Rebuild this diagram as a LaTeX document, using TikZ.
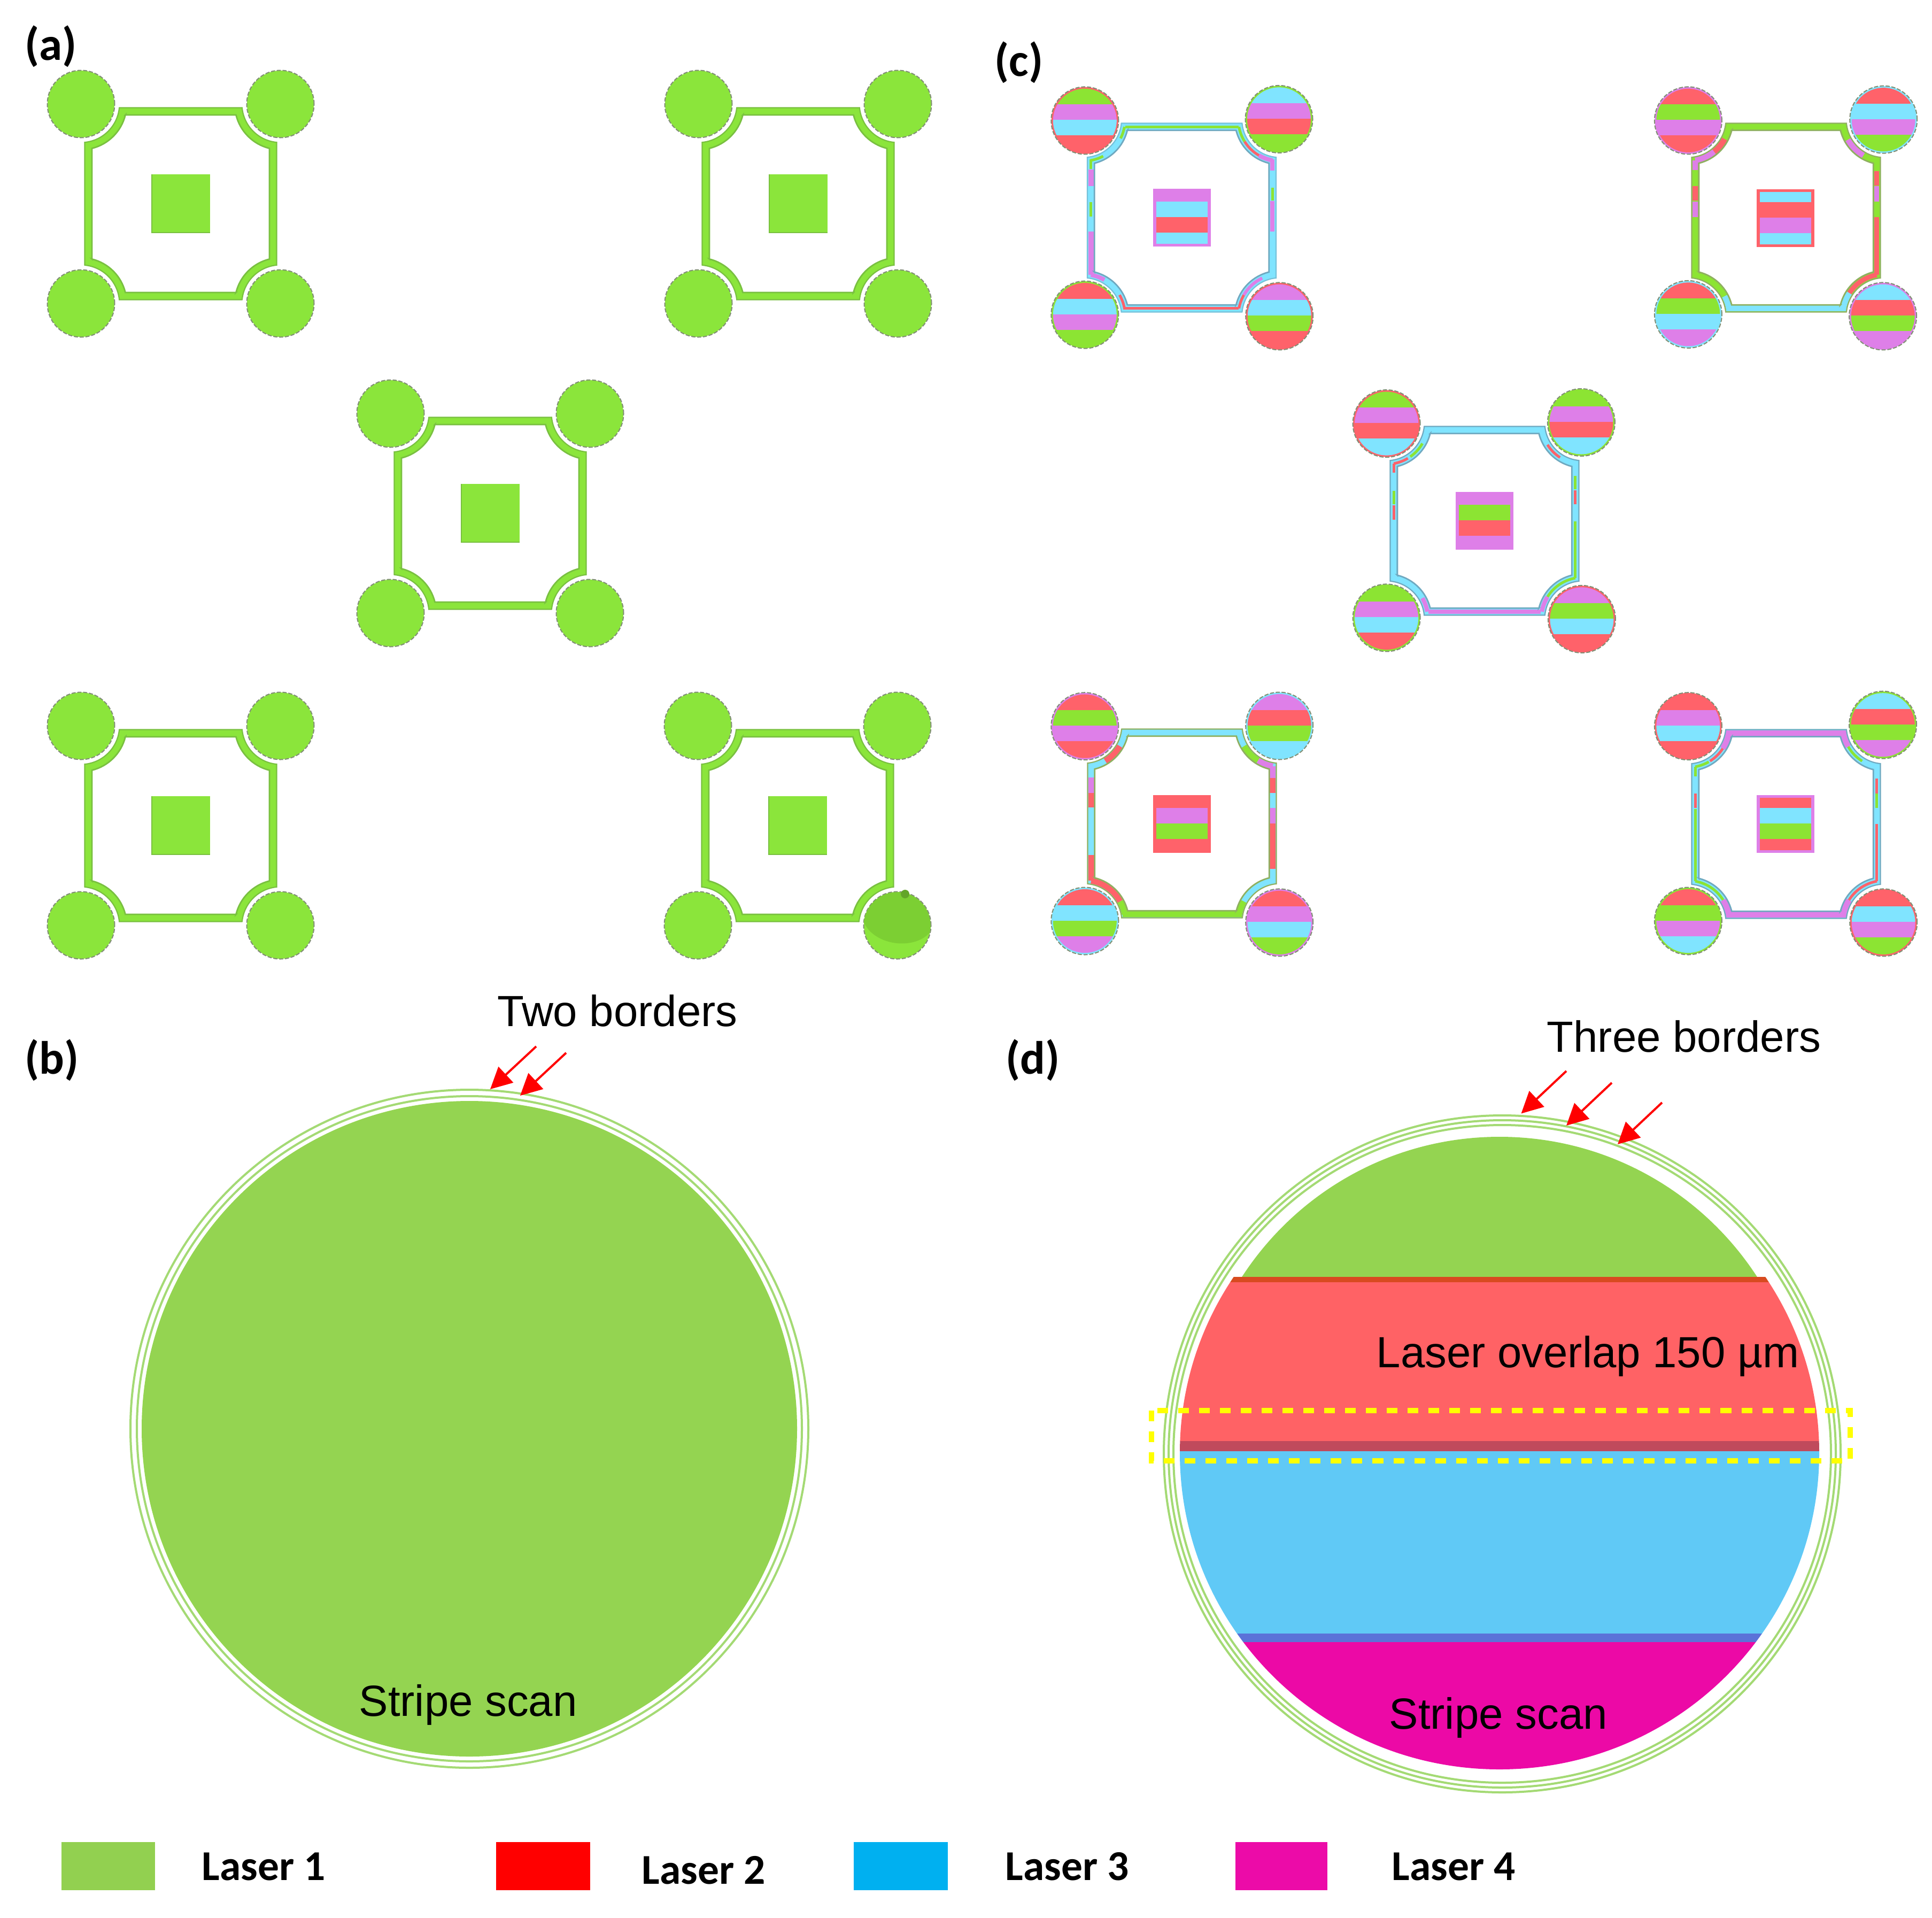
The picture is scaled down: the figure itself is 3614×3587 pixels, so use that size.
\documentclass[tikz,border=0pt]{standalone}
\usepackage{fontspec}
\usetikzlibrary{arrows.meta}
\newfontfamily\arialf{Liberation Sans}
\newfontfamily\carlf{Carlito}
\definecolor{agrn}{HTML}{8BE53B}
\definecolor{agrnd}{HTML}{7CCF33}
\definecolor{grn}{HTML}{8CE433}
\definecolor{vio}{HTML}{DE7FE8}
\definecolor{cya}{HTML}{80E4FF}
\definecolor{rd}{HTML}{FF626A}
\definecolor{dgrn}{HTML}{94D451}
\definecolor{drd}{HTML}{FF6265}
\definecolor{dcy}{HTML}{60C9F6}
\definecolor{dmg}{HTML}{EC09A6}
\definecolor{ringc}{HTML}{A4DA74}
\definecolor{ovA}{HTML}{D84B20}
\definecolor{ovB}{HTML}{C04A5C}
\definecolor{ovC}{HTML}{5B72D8}
\definecolor{lgA}{HTML}{92D050}
\definecolor{lgB}{HTML}{FF0000}
\definecolor{lgC}{HTML}{00B0F0}
\definecolor{lgD}{HTML}{EC0BA8}
\definecolor{yel}{HTML}{FFFF00}
\definecolor{tealedge}{HTML}{6FA9C0}
\definecolor{oliveedge}{HTML}{8FB060}
\definecolor{aedge}{HTML}{79C040}
\def\PX{0.2845pt}
\tikzset{
  x=0.01cm,y=0.01cm,
  lab/.style={anchor=base west,inner sep=0pt,font=\arialf\fontsize{23.2}{27}\selectfont},
  panel/.style={anchor=base west,inner sep=0pt,font=\carlf\bfseries\fontsize{24.8}{28}\selectfont},
  lgd/.style={anchor=base west,inner sep=0pt,font=\carlf\bfseries\fontsize{22.6}{26}\selectfont},
  redarrow/.style={draw=lgB,line width=4*\PX,-{Triangle[length=11.4pt,width=11.4pt]}},
  dashcirc/.style={draw=gray!85!agrn,line width=2*\PX,dash pattern=on 2.2pt off 0.9pt},
  ringline/.style={draw=ringc,line width=4*\PX},
}
% frame outline: half size, radius, angle, tangent point
\newcommand{\FrPath}[4]{(-#4,#1) -- (#4,#1)
  arc[start angle={180+#3},end angle={270-#3},radius=#2] -- (#1,-#4)
  arc[start angle={90+#3},end angle={180-#3},radius=#2] -- (#4,-#1) -- (-#4,-#1)
  arc[start angle={#3},end angle={90-#3},radius=#2] -- (-#1,-#4) -- (-#1,#4)
  arc[start angle={-90+#3},end angle={-#3},radius=#2] -- cycle}
\newcommand{\FrFill}[1]{\fill[#1,even odd rule] \FrPath{179.5}{72}{5.58}{114.84} \FrPath{166}{85.5}{13.87}{103.5};}
\newcommand{\FrLines}[2]{%
  \draw[#1,line width=2.2*\PX] \FrPath{179.5}{72}{5.58}{114.84};
  \draw[#2,line width=2.8*\PX] \FrPath{166}{85.5}{13.87}{103.5};}
% segments inlaid in a frame; \xc,\yc are the frame centre in crop pixels
\newcommand{\segV}[5]{\draw[#4,line width=#5*\PX] ({#1*169.8},{(\yc-#2)/2.8}) -- ({#1*169.8},{(\yc-#3)/2.8});}
\newcommand{\segH}[5]{\draw[#4,line width=#5*\PX] ({(#2-\xc)/2.8},{#1*169.8}) -- ({(#3-\xc)/2.8},{#1*169.8});}
\newcommand{\segA}[6]{\draw[#5,line width=#6*\PX] ({#1*183.3+77.4*cos(#3)},{#2*183.3+77.4*sin(#3)}) arc[start angle=#3,end angle=#4,radius=77.4];}
% striped disc: x y ring c1 c2 c3 c4
\newcommand{\StDisc}[7]{\begin{scope}[shift={(#1,-#2)}]
  \fill[#3] (0,0) circle (62.5);
  \begin{scope}\clip (0,0) circle (59.5);
    \fill[#4] (-70,70) rectangle (70,30);
    \fill[#5] (-70,30) rectangle (70,1);
    \fill[#6] (-70,1) rectangle (70,-28);
    \fill[#7] (-70,-28) rectangle (70,-70);
  \end{scope}
  \draw[dashcirc] (0,0) circle (63);
\end{scope}}
% striped square: x y ring c1 c2 c3 c4
\newcommand{\StSq}[7]{\begin{scope}[shift={(#1,-#2)}]
  \fill[#3] (-54,-54) rectangle (54,54);
  \fill[#4] (-48,49) rectangle (48,30);
  \fill[#5] (-48,30) rectangle (48,1);
  \fill[#6] (-48,1) rectangle (48,-28);
  \fill[#7] (-48,-28) rectangle (48,-49);
\end{scope}}
% plain green cell of panel (a)
\newcommand{\CellA}[2]{\begin{scope}[shift={(#1,-#2)}]
  \FrFill{agrn}
  \FrLines{aedge}{aedge}
  \foreach \sx/\sy in {1/1,1/-1,-1/1,-1/-1}{
    \fill[agrn] ({\sx*186.5},{\sy*186.5}) circle (62.5);
    \draw[dashcirc] ({\sx*186.5},{\sy*186.5}) circle (63);
  }
  \fill[aedge] (-55,-55) rectangle (55,55);
  \fill[agrn] (-53,-53) rectangle (55,55);
\end{scope}}
\begin{document}
\begin{tikzpicture}
\useasboundingbox (0,-3587) rectangle (3614,0);
\fill[white] (0,-3587) rectangle (3614,0);

% ---------- panel (a)
\CellA{338}{381}
\CellA{1493}{381}
\CellA{917}{960}
\CellA{338}{1544}
\CellA{1492}{1544}
\begin{scope}
  \clip (1678,-1731) circle (62.5);
  \fill[agrnd] (1681,-1715) ellipse[x radius=68,y radius=49,rotate=-8];
\end{scope}
\fill[agrnd!80!black] (1693,-1672) circle (8);

% ---------- panel (c)
\begin{scope}[shift={(2210.5,-407)}]
  \def\xc{786}\def\yc{806}
  \begin{scope}[scale=.983]\FrFill{cya}\end{scope}
  \segH{1}{490}{1085}{grn}{5}
  \segA{1}{1}{190}{212}{grn}{5}
  \segA{1}{1}{212}{240}{rd}{5}
  \segA{1}{1}{240}{260}{vio}{8}
  \segV{1}{500}{560}{vio}{8}
  \segV{1}{650}{715}{grn}{5}
  \segV{1}{720}{880}{vio}{8}
  \segA{-1}{1}{-10}{-27}{grn}{5}
  \segA{-1}{1}{-62}{-80}{grn}{5}
  \segV{-1}{500}{550}{grn}{5}
  \segV{-1}{555}{640}{vio}{10}
  \segV{-1}{725}{800}{grn}{5}
  \segV{-1}{880}{1106}{vio}{10}
  \segA{-1}{-1}{80}{60}{vio}{8}
  \segA{-1}{-1}{10}{30}{rd}{5}
  \segH{-1}{480}{1085}{rd}{5}
  \segA{1}{-1}{170}{150}{rd}{5}
  \segA{1}{-1}{150}{115}{vio}{6}
  \begin{scope}[scale=.983]\FrLines{tealedge!60!cya}{tealedge}\end{scope}
\end{scope}
\StSq{2211}{407}{vio}{vio}{cya}{rd}{cya}
\StDisc{2029.3}{225.4}{rd}{grn}{vio}{cya}{rd}
\StDisc{2392.5}{222.9}{grn}{cya}{vio}{rd}{grn}
\StDisc{2029.3}{588.6}{grn}{rd}{cya}{vio}{grn}
\StDisc{2393.2}{591.4}{rd}{vio}{cya}{grn}{rd}

\begin{scope}[shift={(3341,-407)}]
  \def\xc{815}\def\yc{804}
  \begin{scope}[scale=.983]\FrFill{grn}\end{scope}
  \segA{-1}{1}{-28}{-51}{rd}{11}
  \segA{-1}{1}{-51}{-80}{vio}{11}
  \segV{-1}{504}{555}{vio}{11}
  \segV{-1}{640}{715}{rd}{11}
  \segV{-1}{720}{800}{vio}{11}
  \segV{1}{560}{635}{rd}{9}
  \segV{1}{640}{720}{vio}{9}
  \segV{1}{800}{1104}{rd}{9}
  \segA{1}{-1}{100}{147}{rd}{9}
  \segA{1}{-1}{147}{170}{cya}{11}
  \segH{-1}{500}{1130}{cya}{11}
  \segA{-1}{-1}{10}{28}{cya}{11}
  \segA{1}{1}{209}{240}{vio}{11}
  \begin{scope}[scale=.983]\FrLines{oliveedge}{oliveedge}\end{scope}
\end{scope}
\StSq{3340.4}{407.5}{rd}{cya}{rd}{vio}{cya}
\StDisc{3157.9}{225.4}{vio}{rd}{grn}{vio}{rd}
\StDisc{3523.2}{223.6}{cya}{rd}{cya}{vio}{grn}
\StDisc{3157.9}{587.9}{cya}{rd}{grn}{cya}{vio}
\StDisc{3522.1}{591.4}{vio}{cya}{rd}{grn}{vio}

\begin{scope}[shift={(2777,-974)}]
  \def\xc{775}\def\yc{766}
  \begin{scope}[scale=.983]\FrFill{cya}\end{scope}
  \segA{-1}{1}{-59}{-80}{rd}{5}
  \segV{-1}{466}{515}{rd}{5}
  \segA{-1}{1}{-30}{-55}{grn}{5}
  \segV{-1}{610}{680}{grn}{5}
  \segV{-1}{685}{760}{rd}{5}
  \segA{1}{1}{212}{237}{rd}{5}
  \segV{1}{530}{600}{grn}{5}
  \segV{1}{605}{680}{rd}{5}
  \segV{1}{770}{1066}{grn}{5}
  \segA{1}{-1}{100}{148}{grn}{5}
  \segA{1}{-1}{148}{170}{vio}{8}
  \segH{-1}{480}{1070}{vio}{8}
  \segA{-1}{-1}{10}{30}{vio}{8}
  \begin{scope}[scale=.983]\FrLines{tealedge}{tealedge}\end{scope}
\end{scope}
\StSq{2776.8}{973.6}{vio}{vio}{grn}{rd}{vio}
\StDisc{2593.6}{792.1}{rd}{grn}{vio}{rd}{cya}
\StDisc{2957.9}{790}{grn}{grn}{vio}{rd}{cya}
\StDisc{2593.6}{1155.4}{grn}{grn}{vio}{cya}{rd}
\StDisc{2958.9}{1157.9}{rd}{vio}{grn}{cya}{rd}

\begin{scope}[shift={(2211,-1540)}]
  \def\xc{786}\def\yc{756}
  \begin{scope}[scale=.983]\FrFill{cya}\end{scope}
  \segV{-1}{515}{597}{vio}{11}
  \segV{-1}{597}{672}{rd}{11}
  \segV{-1}{920}{1056}{rd}{11}
  \segA{-1}{-1}{80}{29}{rd}{11}
  \segA{-1}{-1}{29}{10}{grn}{11}
  \segH{-1}{476}{1100}{grn}{11}
  \segA{1}{-1}{170}{151}{grn}{11}
  \segA{1}{1}{210}{238}{grn}{11}
  \segA{1}{1}{238}{260}{vio}{11}
  \segV{1}{456}{517}{vio}{11}
  \segV{1}{517}{595}{rd}{11}
  \segV{1}{675}{757}{vio}{11}
  \segV{1}{757}{995}{rd}{11}
  \segA{-1}{1}{-30}{-59}{rd}{11}
  \begin{scope}[scale=.983]\FrLines{oliveedge}{oliveedge}\end{scope}
\end{scope}
\StSq{2210.7}{1540.7}{rd}{rd}{vio}{grn}{rd}
\StDisc{2029.3}{1358.2}{vio}{rd}{grn}{vio}{rd}
\StDisc{2393.2}{1357.5}{cya}{vio}{rd}{grn}{cya}
\StDisc{2029.3}{1722.5}{cya}{rd}{cya}{grn}{vio}
\StDisc{2393.2}{1725.4}{vio}{rd}{vio}{cya}{grn}

\begin{scope}[shift={(3341,-1541)}]
  \def\xc{815}\def\yc{759}
  \begin{scope}[scale=.983]\FrFill{cya}\end{scope}
  \segH{1}{500}{1130}{vio}{11}
  \segA{-1}{1}{-10}{-33}{vio}{11}
  \segA{-1}{1}{-33}{-58}{rd}{5}
  \segA{-1}{1}{-60}{-80}{grn}{5}
  \segV{-1}{459}{510}{grn}{5}
  \segV{-1}{600}{675}{rd}{5}
  \segV{-1}{680}{1059}{grn}{5}
  \segA{-1}{-1}{80}{32}{grn}{5}
  \segA{-1}{-1}{32}{10}{vio}{11}
  \segH{-1}{500}{1130}{vio}{11}
  \segA{1}{-1}{170}{148}{vio}{11}
  \segA{1}{-1}{148}{100}{rd}{5}
  \segV{1}{760}{1059}{rd}{5}
  \segV{1}{520}{600}{rd}{5}
  \segV{1}{600}{675}{grn}{5}
  \segA{1}{1}{190}{210}{vio}{11}
  \segA{1}{1}{210}{238}{grn}{5}
  \begin{scope}[scale=.983]\FrLines{tealedge}{tealedge}\end{scope}
\end{scope}
\StSq{3340.4}{1540.7}{vio}{rd}{cya}{grn}{rd}
\StDisc{3157.9}{1358.2}{rd}{rd}{vio}{cya}{rd}
\StDisc{3522.1}{1355.7}{grn}{cya}{rd}{grn}{vio}
\StDisc{3157.9}{1722.5}{grn}{rd}{grn}{vio}{cya}
\StDisc{3523.2}{1725.4}{rd}{rd}{cya}{vio}{grn}

% ---------- panel (b)
\draw[ringline] (878,-2672) circle (634);
\draw[ringline] (878,-2672) circle (622);
\fill[dgrn] (878,-2672) circle (613);
\node[lab] (btitle) at (930,-1919) {Two borders};
\node[lab] (bscan) at (671,-3209) {Stripe scan};
\coordinate (b1t) at (1003,-1957);
\coordinate (b1h) at (917,-2037);
\coordinate (b2t) at (1059,-1969);
\coordinate (b2h) at (973,-2049);
\draw[redarrow] (b1t) -- (b1h);
\draw[redarrow] (b2t) -- (b2h);

% ---------- panel (d)
\draw[ringline] (2810,-2719) circle (633);
\draw[ringline] (2810,-2719) circle (624);
\draw[ringline] (2810,-2719) circle (615);
\begin{scope}
  \clip (2805,-2700) circle (574);
  \fill[dgrn] (2100,-2000) rectangle (3500,-2389);
\end{scope}
\begin{scope}
  \clip (2805,-2717) ellipse[x radius=598,y radius=592];
  \fill[ovA] (2100,-2388) rectangle (3500,-2398);
  \fill[drd] (2100,-2398) rectangle (3500,-2695);
  \fill[ovB] (2100,-2695) rectangle (3500,-2714);
  \fill[dcy] (2100,-2714) rectangle (3500,-3055);
  \fill[ovC] (2100,-3055) rectangle (3500,-3071);
  \fill[dmg] (2100,-3071) rectangle (3500,-3400);
\end{scope}
\draw[draw=yel,line width=9.5*\PX,dash pattern=on 5.7pt off 5.4pt] (2154,-2638) rectangle (3461,-2732);
\node[lab] (dtitle) at (2893,-1967) {Three borders};
\node[lab] (dover) at (2574,-2557) {Laser overlap 150 µm};
\node[lab] (dscan) at (2598,-3233.5) {Stripe scan};
\coordinate (d1t) at (2930,-2003);
\coordinate (d1h) at (2845.5,-2082.5);
\coordinate (d2t) at (3015,-2025);
\coordinate (d2h) at (2930,-2105);
\coordinate (d3t) at (3109,-2062);
\coordinate (d3h) at (3026,-2140);
\draw[redarrow] (d1t) -- (d1h);
\draw[redarrow] (d2t) -- (d2h);
\draw[redarrow] (d3t) -- (d3h);

% ---------- panel labels
\node[panel] (pa) at (46,-112) {(a)};
\node[panel] (pc) at (1860,-142) {(c)};
\node[panel] (pb) at (46,-2008) {(b)};
\node[panel] (pd) at (1881,-2008) {(d)};

% ---------- legend
\fill[lgA] (115,-3445) rectangle (290,-3535);
\fill[lgB] (928,-3445) rectangle (1104,-3535);
\fill[lgC] (1597,-3445) rectangle (1773,-3535);
\fill[lgD] (2311,-3445) rectangle (2483,-3535);
\node[lgd] (l1) at (377,-3516) {Laser 1};
\node[lgd] (l2) at (1200,-3523) {Laser 2};
\node[lgd] (l3) at (1880,-3516) {Laser 3};
\node[lgd] (l4) at (2603,-3516) {Laser 4};
\end{tikzpicture}
\end{document}
